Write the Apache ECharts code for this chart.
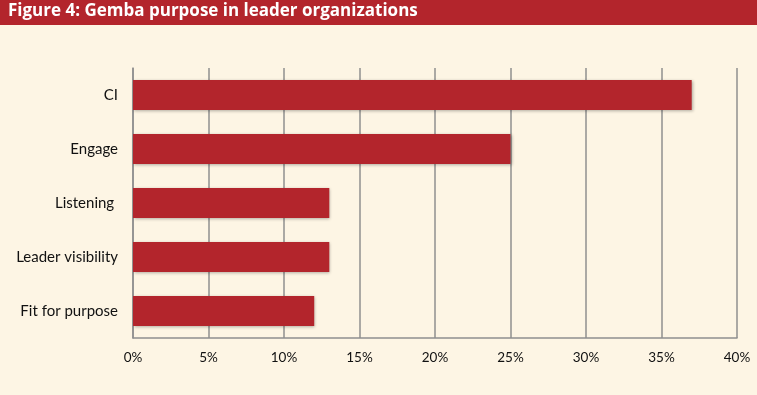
<!DOCTYPE html>
<html><head><meta charset="utf-8">
<script src="https://cdn.jsdelivr.net/npm/echarts@6/dist/echarts.min.js"></script>
<style>html,body{margin:0;padding:0;background:#fdf5e4}#c{width:757px;height:395px}</style>
</head><body><div id="c"></div>
<script>
const titleText = 'Figure 4: Gemba purpose in leader organizations';
const categories = ['CI', 'Engage', 'Listening ', 'Leader visibility', 'Fit for purpose'];
const values = [37, 25, 13, 13, 12];
const tickMax = 40, tickStep = 5;

const chart = echarts.init(document.getElementById('c'), null, {renderer: 'canvas'});
chart.setOption({
  backgroundColor: '#fdf5e4',
  animation: false,
  graphic: [
    {type: 'rect', left: 0, top: 0, shape: {width: 757, height: 25}, style: {fill: '#b3252c'}, z: 0},
    {type: 'text', left: 8, top: 3, style: {text: titleText, fill: '#ffffff', font: 'bold 17px "Open Sans", Lato, sans-serif'}, z: 1}
  ],
  grid: {left: 133, right: 20, top: 68, bottom: 57},
  xAxis: {
    type: 'value', min: 0, max: tickMax, interval: tickStep,
    axisLine: {show: true, lineStyle: {color: '#8f8f8f', width: 1.5}},
    axisTick: {show: false},
    splitLine: {show: true, lineStyle: {color: '#8f8f8f', width: 1.5}},
    axisLabel: {formatter: v => v + '%', color: '#111', fontFamily: 'Lato, "Open Sans", sans-serif', fontSize: 13.5, margin: 13}
  },
  yAxis: {
    type: 'category', data: categories, inverse: true,
    axisLine: {show: true, lineStyle: {color: '#8f8f8f', width: 1.5}},
    axisTick: {show: false},
    axisLabel: {color: '#111', fontFamily: 'Lato, "Open Sans", sans-serif', fontSize: 15, margin: 15}
  },
  series: [{
    type: 'bar', data: values, barWidth: 30,
    itemStyle: {color: '#b3252c', shadowColor: 'rgba(0,0,0,0.3)', shadowBlur: 3, shadowOffsetX: 1, shadowOffsetY: 1}
  }]
});
</script></body></html>
